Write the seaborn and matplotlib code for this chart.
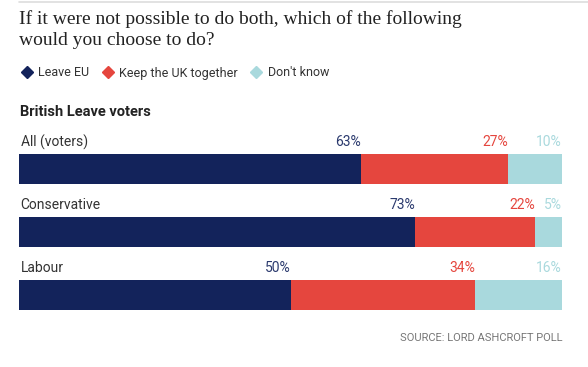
import matplotlib.pyplot as plt
import pandas as pd
import seaborn as sns
from matplotlib.lines import Line2D

groups = ["All (voters)", "Conservative", "Labour"]
leave_eu = [63, 73, 50]
keep_uk = [27, 22, 34]
dont_know = [10, 5, 16]

series = ["Leave EU", "Keep the UK together", "Don't know"]
colors = ["#13235b", "#e5463e", "#a9d9dd"]
label_colors = ["#2b3a6e", "#e5463e", "#a9d9dd"]

title = "If it were not possible to do both, which of the following\nwould you choose to do?"
subtitle = "British Leave voters"
source = "SOURCE: LORD ASHCROFT POLL"

sns.set_theme(style="white")
plt.rcParams["font.family"] = ["Roboto", "DejaVu Sans"]

df = pd.DataFrame({"group": groups, "leave": leave_eu, "keep": keep_uk, "dk": dont_know})
df["cum_leave"] = df["leave"]
df["cum_keep"] = df["leave"] + df["keep"]
df["cum_dk"] = df["cum_keep"] + df["dk"]

W, H = 588, 367
fig = plt.figure(figsize=(W / 100, H / 100), dpi=100)
ax = fig.add_axes([19 / W, 1 - 326.5 / H, 543 / W, 189 / H])

# stacked bars: draw cumulative totals back to front
for col, color in zip(["cum_dk", "cum_keep", "cum_leave"], colors[::-1]):
    sns.barplot(data=df, x=col, y="group", orient="h", color=color,
                width=30 / 63, saturation=1, ax=ax, linewidth=0)

ax.set_xlim(0, 100)
ax.set_ylim(2.5, -0.5)
ax.axis("off")

label_dy = 27 / 63
for i, row in df.iterrows():
    ax.text(0.3, i - label_dy, row["group"], ha="left", va="center",
            fontsize=10, color="#333333")
    vals = [row["leave"], row["keep"], row["dk"]]
    for col, c, val in zip(["cum_leave", "cum_keep", "cum_dk"], label_colors, vals):
        ax.text(row[col], i - label_dy, f"{val}%", ha="right", va="center",
                fontsize=10, color=c)

# top rule
fig.add_artist(Line2D([19 / W, 1], [1 - 2 / H, 1 - 2 / H], color="#dddddd", linewidth=1.2))

fig.text(19 / W, 1 - 10 / H, title, ha="left", va="top", fontsize=14,
         family=["Liberation Serif", "DejaVu Serif"], color="#222222", linespacing=1.3)

handles = [Line2D([], [], marker="D", linestyle="none", markersize=6, color=c) for c in colors]
fig.legend(handles, series, loc="center left", bbox_to_anchor=(14 / W, 1 - 73 / H),
           ncol=3, frameon=False, fontsize=9, handletextpad=0.3, columnspacing=0.9,
           labelcolor="#333333", borderaxespad=0, handlelength=1.2)

fig.text(20 / W, 1 - 112 / H, subtitle, ha="left", va="center", fontsize=10.5,
         fontweight="bold", color="#222222")

fig.text(562 / W, 1 - 338 / H, source, ha="right", va="center", fontsize=8,
         color="#777777")

fig.savefig("out.png", dpi=100)
